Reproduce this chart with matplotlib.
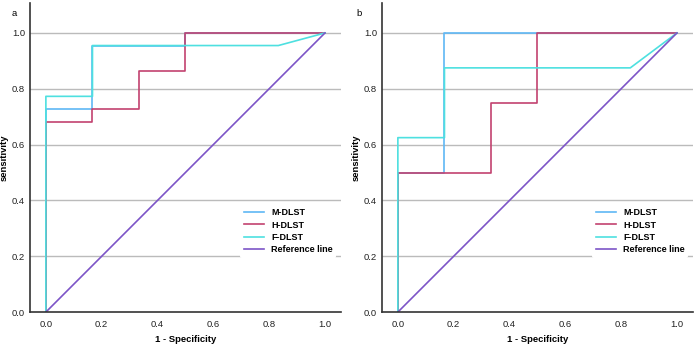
import matplotlib
matplotlib.use("Agg")
import matplotlib.pyplot as plt

# Panel a
a_m_x = [0, 0, 0.167, 0.167, 0.5, 0.5, 1.0]
a_m_y = [0, 0.727, 0.727, 0.955, 0.955, 1.0, 1.0]
a_h_x = [0, 0, 0.167, 0.167, 0.333, 0.333, 0.5, 0.5, 1.0]
a_h_y = [0, 0.682, 0.682, 0.727, 0.727, 0.864, 0.864, 1.0, 1.0]
a_f_x = [0, 0, 0.167, 0.167, 0.833, 1.0]
a_f_y = [0, 0.773, 0.773, 0.955, 0.955, 1.0]

# Panel b
b_m_x = [0, 0, 0.167, 0.167, 1.0]
b_m_y = [0, 0.5, 0.5, 1.0, 1.0]
b_h_x = [0, 0, 0.333, 0.333, 0.5, 0.5, 1.0]
b_h_y = [0, 0.5, 0.5, 0.75, 0.75, 1.0, 1.0]
b_f_x = [0, 0, 0.167, 0.167, 0.833, 1.0]
b_f_y = [0, 0.625, 0.625, 0.875, 0.875, 1.0]

ref_x = [0, 1]
ref_y = [0, 1]

labels = ["M-DLST", "H-DLST", "F-DLST", "Reference line"]
colors = ["#5fb8f5", "#c2426f", "#4ee0e0", "#7d55c7"]
ticks = [0.0, 0.2, 0.4, 0.6, 0.8, 1.0]
tick_labels = ["0.0", "0.2", "0.4", "0.6", "0.8", "1.0"]

plt.rcParams['font.family'] = ['Liberation Sans', 'DejaVu Sans']

fig = plt.figure(figsize=(6.97, 3.46), dpi=100)
ax_a = fig.add_axes([0.043, 0.098, 0.446, 0.893])
ax_b = fig.add_axes([0.548, 0.098, 0.446, 0.893])

panels = [
    (ax_a, "a", 12, [(a_m_x, a_m_y), (a_h_x, a_h_y), (a_f_x, a_f_y)]),
    (ax_b, "b", 356, [(b_m_x, b_m_y), (b_h_x, b_h_y), (b_f_x, b_f_y)]),
]

for ax, tag, tx, series in panels:
    for (x, y), lab, c in zip(series, labels[:3], colors[:3]):
        ax.plot(x, y, color=c, lw=1.2, label=lab)
    ax.plot(ref_x, ref_y, color=colors[3], lw=1.2, label=labels[3])
    ax.set_xlim(-0.057, 1.057)
    ax.set_ylim(0, 1.107)
    for t in ticks[1:]:
        ax.axhline(t, color="#bbbbbb", lw=1.0, zorder=0)
    ax.set_xticks(ticks)
    ax.set_xticklabels(tick_labels)
    ax.set_yticks(ticks)
    ax.set_yticklabels(tick_labels)
    ax.tick_params(axis='x', length=0, labelsize=6.8, colors="#222222", pad=6)
    ax.tick_params(axis='y', length=0, labelsize=6.8, colors="#222222", pad=3.5)
    for s in ["top", "right"]:
        ax.spines[s].set_visible(False)
    for s in ["left", "bottom"]:
        ax.spines[s].set_color("#333333")
        ax.spines[s].set_linewidth(1.2)
    ax.set_xlabel("1 - Specificity", fontsize=6.8, fontweight="bold", labelpad=4)
    ax.set_ylabel("sensitivity", fontsize=6.8, fontweight="bold", labelpad=2)
    fig.text(tx / 697, 1 - 14 / 346, tag, fontsize=6.8, ha="left", va="center")
    leg = ax.legend(loc="lower right", bbox_to_anchor=(1.0, 0.162), frameon=True,
                    handlelength=2.2, labelspacing=0.35,
                    prop={'weight': 'bold', 'size': 6.5})
    leg.get_frame().set_edgecolor("none")
    leg.get_frame().set_facecolor("white")
    leg.get_frame().set_alpha(1.0)

fig.savefig("out.png", dpi=100)
